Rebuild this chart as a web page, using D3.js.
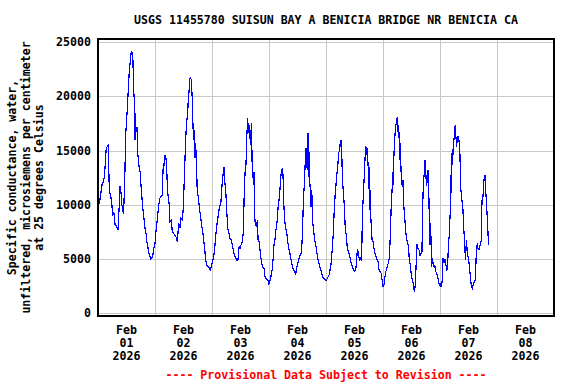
<!DOCTYPE html>
<html>
<head>
<meta charset="utf-8">
<script src="https://cdn.jsdelivr.net/npm/d3@7"></script>
<style>
  html, body { margin: 0; padding: 0; background: #fff; }
  svg { display: block; }
  text { font-family: "DejaVu Sans Mono", "Liberation Mono", monospace; font-weight: bold; font-size: 11.6px; }
</style>
</head>
<body>
<svg id="chart" width="576" height="384"></svg>
<script>
const title = "USGS 11455780 SUISUN BAY A BENICIA BRIDGE NR BENICIA CA";
const yLabelLines = ["Specific conductance, water,", "unfiltered, microsiemens per centimeter", "at 25 degrees Celsius"];
const footer = "---- Provisional Data Subject to Revision ----";
const yTicks = [0, 5000, 10000, 15000, 20000, 25000];
const tickMonths = ["Feb", "Feb", "Feb", "Feb", "Feb", "Feb", "Feb", "Feb"];
const tickDays = ["01", "02", "03", "04", "05", "06", "07", "08"];
const tickYears = ["2026", "2026", "2026", "2026", "2026", "2026", "2026", "2026"];

// hours since 2026-02-01 00:00
const hours = [
0.0,0.3,0.8,1.7,2.2,2.7,3.4,3.8,4.4,4.5,4.8,5.3,5.8,6.2,6.7,7.2,7.9,8.4,9.0,9.3,9.7,10.0,10.4,10.8,11.4,11.5,12.1,12.5,12.9,13.2,13.8,14.0,14.5,14.7,15.0,15.4,15.6,15.7,16.0,16.4,16.8,17.3,17.7,18.0,18.4,19.1,19.8,20.2,20.6,21.2,21.6,22.3,23.0,23.4,24.0,24.4,25.0,25.5,26.0,26.5,27.0,27.5,27.9,28.2,28.6,28.9,29.2,29.6,30.0,30.3,30.9,31.2,31.7,32.3,
32.8,33.4,34.0,34.5,34.9,35.5,35.9,36.5,36.9,37.3,37.8,38.0,38.5,38.7,39.0,39.3,39.7,40.0,40.3,40.6,40.8,41.1,41.5,41.8,42.2,42.7,43.1,43.7,44.1,44.5,44.9,45.3,45.8,46.3,46.9,47.3,47.7,48.1,48.6,49.0,49.4,49.8,50.3,50.7,51.1,51.7,51.9,52.4,52.8,53.1,53.3,53.8,54.2,54.6,55.0,55.6,56.1,56.6,57.0,57.4,58.0,58.4,58.9,59.4,59.8,60.2,60.8,61.2,61.5,61.9,62.3,62.6,63.0,63.4,63.7,64.2,64.6,64.9,65.1,65.4,65.7,
65.8,66.2,66.7,67.1,67.4,67.8,68.2,68.8,69.3,69.9,70.3,70.7,71.2,71.6,71.9,72.3,72.8,73.3,73.7,74.1,74.5,74.9,75.4,75.8,76.2,76.6,77.0,77.3,77.6,77.9,78.2,78.6,79.0,79.4,79.9,80.3,80.7,81.1,81.5,82.0,82.4,82.8,83.2,83.5,83.9,84.4,84.8,85.2,85.6,86.0,86.5,86.9,87.3,87.6,87.9,88.1,88.4,88.7,88.8,89.1,89.4,89.7,90.0,90.3,90.5,90.8,91.2,91.7,92.1,92.5,92.9,93.3,93.8,94.2,94.6,95.0,95.4,96.0,96.4,96.8,97.3,97.7,98.1,98.4,
98.7,99.1,99.5,99.9,100.2,100.5,100.9,101.3,101.8,102.0,102.3,102.6,102.9,103.3,103.7,104.1,104.6,105.0,105.4,105.8,106.2,106.7,107.1,107.5,107.9,108.5,108.8,109.1,109.3,109.8,110.2,110.6,111.0,111.3,111.7,112.1,112.6,112.8,113.1,113.4,113.8,114.1,114.2,114.5,114.7,114.9,115.4,115.8,116.2,116.6,117.1,117.5,117.9,118.3,118.7,119.2,119.6,119.9,120.3,120.6,121.0,121.4,121.8,122.2,122.7,123.1,123.5,123.9,124.2,124.4,124.6,124.9,125.3,125.8,126.0,126.3,126.6,126.9,127.2,127.3,127.6,127.9,128.1,128.4,128.7,129.1,129.6,130.0,130.4,130.8,131.1,
131.4,131.7,132.1,132.5,132.9,133.2,133.5,133.8,134.0,134.3,134.7,135.2,135.6,136.0,136.4,136.7,137.0,137.3,137.7,138.0,138.3,138.7,139.0,139.2,139.5,139.8,140.1,140.2,140.5,140.8,141.1,141.5,141.8,142.0,142.5,142.9,143.3,143.7,144.0,144.4,144.7,145.0,145.3,145.6,145.8,146.1,146.5,146.9,147.2,147.5,147.9,148.4,148.6,148.8,149.1,149.3,149.6,149.9,150.2,150.5,150.7,151.0,151.3,151.6,151.9,152.1,152.4,152.7,153.1,153.6,154.0,154.4,154.7,154.9,155.2,155.5,155.9,156.4,156.8,157.2,157.6,158.0,158.5,158.9,159.3,159.7,160.0,160.4,160.9,161.3,161.7,162.1,162.5,162.9,163.2,163.5,163.8,164.1,164.4
];
const conductance = [
8400,10000,10450,11850,12150,12600,15050,15350,15550,13550,11200,10900,10150,9000,9250,8150,8000,7700,10150,11700,11100,10150,9400,9200,13550,16000,18000,19500,21200,22450,23700,24100,24000,23400,20600,19400,16000,18450,16900,17200,14600,13550,13100,12150,10900,9200,7850,7400,6600,5850,5400,5000,5200,5850,6450,7550,8750,9850,10600,10750,10900,13850,13550,14600,14300,13550,11700,10600,10000,8450,8600,7700,7400,7230,
7070,6600,8300,7840,8760,8600,9700,13380,16000,17530,18600,19680,20900,21680,21740,21520,19680,17200,16000,16900,14300,15680,13680,11070,10760,9690,9070,8000,7530,6760,6000,5010,4460,4300,4210,3900,4300,4670,5070,5690,6670,7690,8610,9070,9840,10080,10760,12360,13070,13530,12300,11220,9530,7840,7530,6920,6760,6300,5840,5380,5070,4920,4860,6150,5940,6300,6610,7530,10455,12900,13680,16000,18000,16600,17370,15530,17530,13840,13220,12150,13070,
9530,8300,8000,8610,6760,6610,5840,4770,4210,4150,3380,3230,3075,3010,2610,2920,3380,4000,4920,6300,6760,7620,8460,9690,10455,11380,12600,13220,13280,12760,10200,8610,7840,7530,6610,6000,5690,5070,4770,4150,4000,3840,3540,4000,4460,4770,5230,5380,5540,6920,10455,12000,14150,15220,13840,13220,16600,12600,14900,12300,11380,9840,11380,9380,8150,7690,6760,6300,5690,5070,4770,4300,4000,3690,3380,3230,3140,3010,3140,3320,3540,4000,4460,5380,
6000,7530,9690,11070,11840,12670,13380,14760,15070,15840,15930,15070,12600,11070,10000,7840,7070,5840,5780,5380,5070,4550,4300,4060,3900,4000,4610,5540,5900,5230,4920,5070,4920,8920,10760,12600,15070,15380,14600,15220,13220,13530,9530,10000,11380,8760,6760,6610,6000,5540,5230,4920,4770,4060,3840,3690,3075,2460,2460,2920,3690,4000,4300,4610,5070,7380,10150,11700,13070,11840,14600,16000,17220,17680,18080,16760,17370,15380,14150,15680,13070,12150,11700,12300,10150,8920,7530,6760,6460,6000,4770,
4610,4000,3230,3075,2460,2000,2460,3690,4770,6400,6000,5840,5290,5540,5690,9690,12000,12760,14150,13070,11700,12450,13220,12300,8610,6300,8300,6760,4300,5070,4610,4300,4460,4000,3690,3540,3075,2610,2770,2460,2610,3230,5070,5070,4770,4920,4460,4000,4150,6150,7230,9840,12760,11070,14760,13680,15680,16000,17220,17370,16300,15380,16150,16300,16150,15680,14600,11700,10600,9840,7840,6460,4920,5990,6760,5380,5230,4300,3380,2460,2300,2610,2920,3075,5690,6460,6000,5840,6300,6610,10455,10760,12300,12760,11380,10455,9220,8000,6300
];

const W = 576, H = 384;
const plot = { left: 98, right: 554, top: 39, bottom: 316 };
const t0 = Date.UTC(2026, 1, 1);
const data = hours.map((h, i) => ({ t: new Date(t0 + h * 3600e3), v: conductance[i] }));

const x = d3.scaleUtc()
  .domain([new Date(t0), new Date(t0 + 8 * 86400e3)])
  .range([plot.left, plot.right]);
const y = d3.scaleLinear().domain([-250, 25300]).range([plot.bottom, plot.top]);

const svg = d3.select("#chart");

// grid
const g = svg.append("g");
const dayBounds = d3.range(1, 8).map(d => new Date(t0 + d * 86400e3));
g.selectAll("line.vg").data(dayBounds).join("line")
  .attr("x1", d => Math.round(x(d)) + 0.5).attr("x2", d => Math.round(x(d)) + 0.5)
  .attr("y1", plot.top).attr("y2", plot.bottom)
  .attr("stroke", "#c8c8c8").attr("stroke-width", 1);
g.selectAll("line.hg").data(yTicks).join("line")
  .attr("x1", plot.left).attr("x2", plot.right)
  .attr("y1", d => Math.round(y(d)) + 0.5).attr("y2", d => Math.round(y(d)) + 0.5)
  .attr("stroke", "#c8c8c8").attr("stroke-width", 1);

// data line
const line = d3.line().x(d => x(d.t)).y(d => y(d.v));
svg.append("path").datum(data)
  .attr("d", line)
  .attr("fill", "none").attr("stroke", "#0000ff").attr("stroke-width", 1.2)
  .attr("shape-rendering", "crispEdges");

// frame
svg.append("rect")
  .attr("x", plot.left).attr("y", plot.top)
  .attr("width", plot.right - plot.left).attr("height", plot.bottom - plot.top)
  .attr("fill", "none").attr("stroke", "#000").attr("stroke-width", 2);

// y tick labels
svg.selectAll("text.yt").data(yTicks).join("text")
  .attr("x", 91).attr("y", d => y(d) + 4)
  .attr("text-anchor", "end").text(d => d);

// x tick labels
const dayMids = d3.range(0, 8).map(d => new Date(t0 + (d + 0.5) * 86400e3));
const xt = svg.selectAll("text.xt").data(dayMids).join("text")
  .attr("text-anchor", "middle");
xt.append("tspan").attr("x", d => x(d)).attr("y", 334).text((d, i) => tickMonths[i]);
xt.append("tspan").attr("x", d => x(d)).attr("y", 347).text((d, i) => tickDays[i]);
xt.append("tspan").attr("x", d => x(d)).attr("y", 360).text((d, i) => tickYears[i]);

// title
svg.append("text").attr("x", (plot.left + plot.right) / 2).attr("y", 24)
  .attr("text-anchor", "middle").text(title);

// y label
const cy = (plot.top + plot.bottom) / 2;
const ylBase = [16, 29.5, 43];
yLabelLines.forEach((s, i) => {
  svg.append("text")
    .attr("transform", `translate(${ylBase[i]},${cy}) rotate(-90)`)
    .attr("text-anchor", "middle").text(s);
});

// footer
svg.append("text").attr("x", (plot.left + plot.right) / 2).attr("y", 379)
  .attr("text-anchor", "middle").attr("fill", "#ff0000").text(footer);
</script>
</body>
</html>
